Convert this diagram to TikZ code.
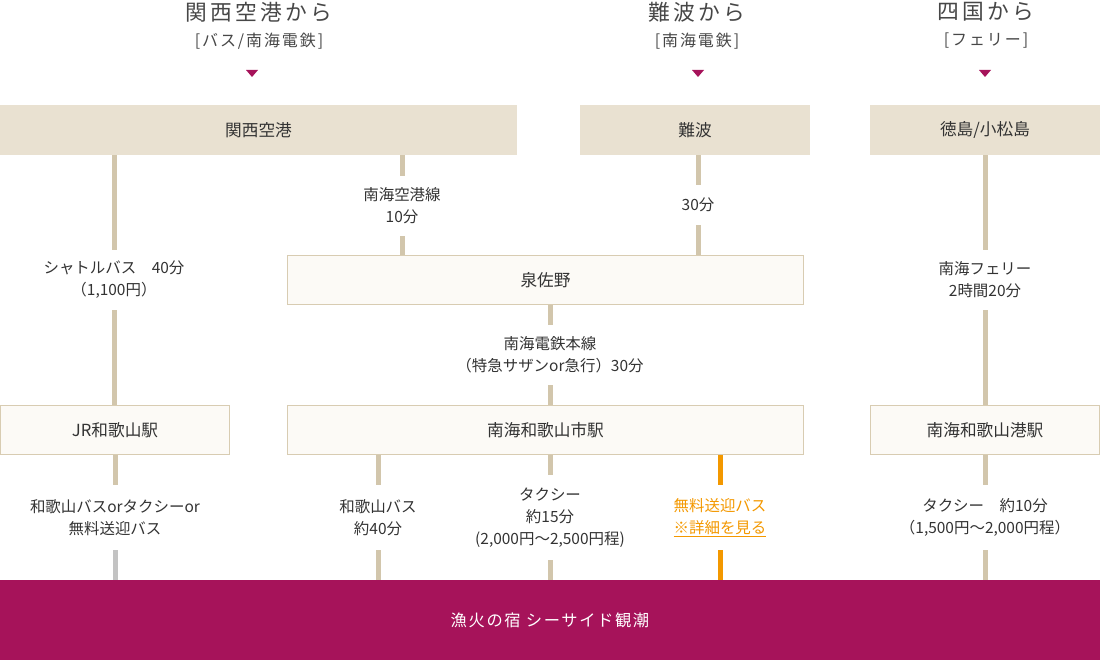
\documentclass[tikz,border=0pt]{standalone}
\usepackage{fontspec}
\setmainfont{Noto Sans CJK JP}
\newfontfamily\headfont[LetterSpace=15]{Noto Sans CJK JP}
\newfontfamily\subfont[LetterSpace=12]{Noto Sans CJK JP}
\newfontfamily\barfont[LetterSpace=10]{Noto Sans CJK JP}
\definecolor{topfill}{HTML}{E9E1D1}
\definecolor{lightfill}{HTML}{FCFAF6}
\definecolor{lightborder}{HTML}{D8CCB2}
\definecolor{connc}{HTML}{D2C6AC}
\definecolor{magc}{HTML}{A6135A}
\definecolor{orangec}{HTML}{F39800}
\definecolor{grayc}{HTML}{C3C3C3}
\definecolor{txt}{HTML}{333333}
\tikzset{
  headtxt/.style={text=txt!90, inner sep=0, font=\headfont\fontsize{16.3}{20}\selectfont},
  subtxt/.style={text=txt!90, inner sep=0, font=\subfont\fontsize{12}{15}\selectfont},
  topbox/.style={fill=topfill, minimum height=37.5pt, inner sep=0, text=txt, font=\fontsize{12.5}{15}\selectfont},
  stationbox/.style={fill=lightfill, draw=lightborder, line width=0.75pt, minimum height=36.75pt, inner sep=0, text=txt, font=\fontsize{12.5}{15}\selectfont},
  hotelbox/.style={fill=magc, minimum height=60pt, minimum width=825pt, inner sep=0, text=white, font=\barfont\fontsize{12.2}{15}\selectfont},
  lab/.style={inner sep=0, align=center, text=txt, font=\fontsize{11.6}{16.5}\selectfont},
  conn/.style={draw=connc, line width=3.75pt},
  tri/.style={fill=magc},
}
\begin{document}
\begin{tikzpicture}[x=0.75pt,y=-0.75pt]
\useasboundingbox (0,0) rectangle (1100,660);

% headings
\node[headtxt] (h1) at (259,12) {関西空港から};
\node[subtxt] (h1s) at (259,41) {[バス/南海電鉄]};
\node[headtxt] (h2) at (697,12) {難波から};
\node[subtxt] (h2s) at (697,41) {[南海電鉄]};
\node[headtxt] (h3) at (986,12) {四国から};
\node[subtxt] (h3s) at (986,41) {[フェリー]};

\coordinate (t1) at (252,70);
\coordinate (t2) at (698,70);
\coordinate (t3) at (985,70);
\foreach \t in {t1,t2,t3}{
  \fill[tri] (\t) ++(-6,0) -- ++(12,0) -- ++(-6,7) -- cycle;
}

% top boxes
\node[topbox, minimum width=387.75pt] (kix) at (258.5,130) {関西空港};
\node[topbox, minimum width=172.5pt] (namba) at (695,130) {難波};
\node[topbox, minimum width=172.5pt] (toku) at (985,130) {徳島/小松島};

% middle / lower boxes
\node[stationbox, minimum width=387pt] (izumi) at (545.5,280) {泉佐野};
\node[stationbox, minimum width=171.75pt] (jr) at (115,430) {JR和歌山駅};
\node[stationbox, minimum width=387pt] (nwsi) at (545.5,430) {南海和歌山市駅};
\node[stationbox, minimum width=171.75pt] (nwko) at (985,430) {南海和歌山港駅};

% hotel bar
\node[hotelbox] (hotel) at (550,620) {漁火の宿 シーサイド観潮};

% labels
\node[lab, minimum height=45pt] (l1) at (114,280) {シャトルバス　40分\\（1,100円）};
\node[lab, minimum height=45pt] (l2) at (402,206) {南海空港線\\10分};
\node[lab, minimum height=30pt] (l3) at (698,205) {30分};
\node[lab, minimum height=45pt] (l4) at (985,280) {南海フェリー\\2時間20分};
\node[lab, minimum height=45pt] (l5) at (550,355) {南海電鉄本線\\（特急サザンor急行）30分};
\node[lab, minimum height=48.75pt] (l6) at (115,517.5) {和歌山バスorタクシーor\\無料送迎バス};
\node[lab, minimum height=48.75pt] (l7) at (378,517.5) {和歌山バス\\約40分};
\node[lab, minimum height=63.75pt] (l8) at (550,517.5) {タクシー\\約15分\\(2,000円〜2,500円程)};
\node[lab, minimum height=48.75pt, text=orangec] (l9) at (720,517.5) {無料送迎バス\\\underline{※詳細を見る}};
\node[lab, minimum height=48.75pt] (l10) at (985,517.5) {タクシー　約10分\\（1,500円〜2,000円程）};

% connectors
\draw[conn] (kix.south -| l1.north) -- (l1.north);
\draw[conn] (l1.south) -- (jr.north -| l1.south);
\draw[conn] (kix.south -| l2.north) -- (l2.north);
\draw[conn] (l2.south) -- (izumi.north -| l2.south);
\draw[conn] (namba.south -| l3.north) -- (l3.north);
\draw[conn] (l3.south) -- (izumi.north -| l3.south);
\draw[conn] (toku.south -| l4.north) -- (l4.north);
\draw[conn] (l4.south) -- (nwko.north -| l4.south);
\draw[conn] (izumi.south -| l5.north) -- (l5.north);
\draw[conn] (l5.south) -- (nwsi.north -| l5.south);
\draw[conn] (jr.south -| l6.north) -- (l6.north);
\draw[conn, draw=grayc] (l6.south) -- (hotel.north -| l6.south);
\draw[conn] (nwsi.south -| l7.north) -- (l7.north);
\draw[conn] (l7.south) -- (hotel.north -| l7.south);
\draw[conn] (nwsi.south -| l8.north) -- (l8.north);
\draw[conn] (l8.south) -- (hotel.north -| l8.south);
\draw[conn, draw=orangec] (nwsi.south -| l9.north) -- (l9.north);
\draw[conn, draw=orangec] (l9.south) -- (hotel.north -| l9.south);
\draw[conn] (nwko.south -| l10.north) -- (l10.north);
\draw[conn] (l10.south) -- (hotel.north -| l10.south);
\end{tikzpicture}
\end{document}
